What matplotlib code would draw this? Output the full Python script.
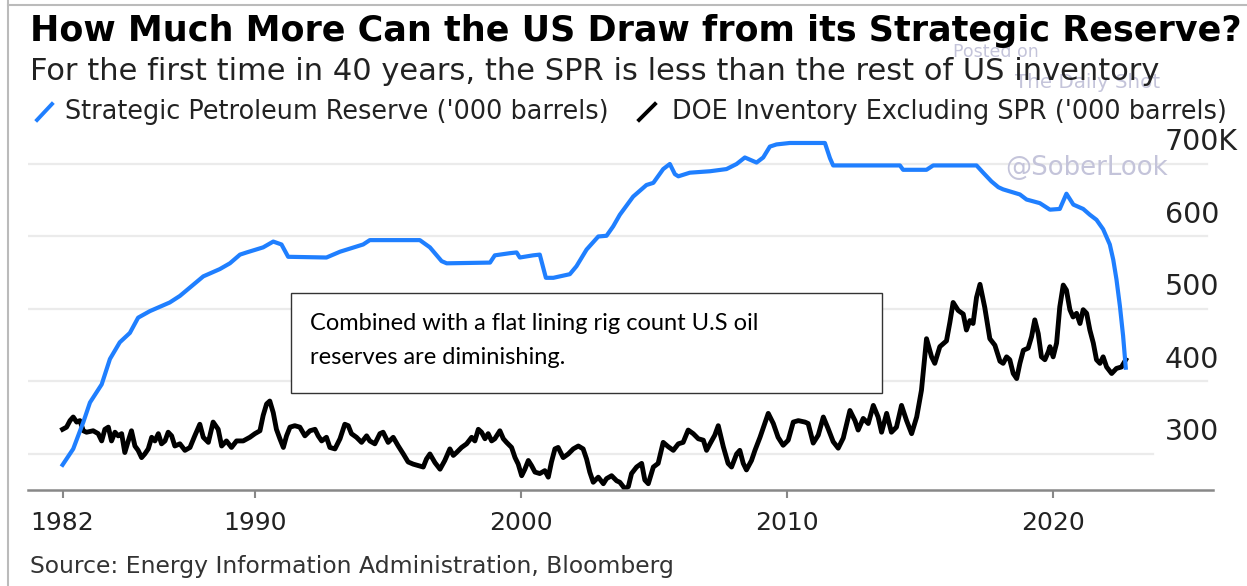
import matplotlib
matplotlib.use("Agg")
import matplotlib.pyplot as plt
from matplotlib.lines import Line2D
from matplotlib.patches import Rectangle

# Strategic Petroleum Reserve, million barrels (axis reads '000 barrels in K)
spr_years = [1982.77, 1983.17, 1983.55, 1983.80, 1984.24, 1984.55, 1984.92, 1985.30, 1985.61,
             1986.05, 1986.80, 1987.18, 1988.06, 1988.68, 1989.06, 1989.44, 1989.69, 1990.31,
             1990.69, 1991.00, 1991.25, 1992.69, 1993.20, 1994.07, 1994.32, 1996.20, 1996.58,
             1997.02, 1997.21, 1998.84, 1999.02, 1999.59, 1999.84, 1999.96, 2000.46, 2000.71,
             2000.94, 2001.22, 2001.84, 2002.09, 2002.47, 2002.91, 2003.22, 2003.47, 2003.72,
             2004.22, 2004.72, 2004.98, 2005.35, 2005.60, 2005.79, 2005.92, 2006.35, 2007.11,
             2007.73, 2008.11, 2008.42, 2008.86, 2009.11, 2009.36, 2009.61, 2010.11, 2011.43,
             2011.62, 2011.74, 2014.25, 2014.37, 2015.25, 2015.50, 2017.13, 2017.38, 2017.69,
             2017.95, 2018.13, 2018.76, 2019.01, 2019.51, 2019.89, 2020.26, 2020.51, 2020.77,
             2021.14, 2021.39, 2021.64, 2021.89, 2022.14, 2022.27, 2022.39, 2022.52, 2022.64,
             2022.74]
spr_values = [285, 307, 344, 371, 396, 431, 454, 467, 488,
              497, 509, 518, 545, 555, 563, 575, 578, 585,
              593, 589, 572, 571, 579, 589, 595, 595, 585,
              566, 563, 564, 574, 577, 578, 571, 574, 575,
              543, 543, 548, 559, 582, 600, 601, 614, 630,
              655, 671, 674, 693, 700, 686, 683, 688, 690,
              693, 700, 709, 702, 709, 724, 727, 729, 729,
              708, 698, 698, 692, 692, 698, 698, 688, 676,
              668, 665, 658, 651, 646, 637, 638, 659, 644,
              638, 630, 623, 610, 589, 568, 541, 504, 463,
              419]

# DOE inventory excluding SPR, million barrels
inv_years = [1982.77, 1982.92, 1983.05, 1983.17, 1983.30, 1983.42, 1983.55, 1983.67, 1983.92,
             1984.11, 1984.24, 1984.36, 1984.49, 1984.61, 1984.74, 1984.86, 1984.99, 1985.11,
             1985.24, 1985.36, 1985.49, 1985.61, 1985.74, 1985.86, 1985.99, 1986.12, 1986.24,
             1986.37, 1986.49, 1986.62, 1986.74, 1986.87, 1986.99, 1987.18, 1987.37, 1987.56,
             1987.74, 1987.93, 1988.06, 1988.25, 1988.43, 1988.62, 1988.75, 1988.93, 1989.12,
             1989.31, 1989.56, 1989.81, 1990.00, 1990.19, 1990.31, 1990.44, 1990.56, 1990.69,
             1990.81, 1990.94, 1991.07, 1991.19, 1991.32, 1991.50, 1991.69, 1991.88, 1992.07,
             1992.26, 1992.38, 1992.51, 1992.69, 1992.82, 1993.01, 1993.20, 1993.38, 1993.51,
             1993.63, 1993.82, 1994.01, 1994.20, 1994.32, 1994.51, 1994.70, 1994.82, 1995.01,
             1995.20, 1995.39, 1995.58, 1995.76, 1995.95, 1996.14, 1996.33, 1996.45, 1996.58,
             1996.77, 1996.96, 1997.14, 1997.33, 1997.46, 1997.58, 1997.77, 1997.96, 1998.15,
             1998.27, 1998.40, 1998.52, 1998.65, 1998.77, 1998.90, 1999.02, 1999.21, 1999.34,
             1999.46, 1999.65, 1999.78, 1999.90, 2000.03, 2000.15, 2000.28, 2000.40, 2000.53,
             2000.71, 2000.90, 2001.03, 2001.15, 2001.28, 2001.40, 2001.59, 2001.78, 2001.97,
             2002.16, 2002.34, 2002.47, 2002.59, 2002.72, 2002.91, 2003.10, 2003.22, 2003.41,
             2003.60, 2003.72, 2003.91, 2004.04, 2004.16, 2004.35, 2004.54, 2004.66, 2004.79,
             2004.98, 2005.16, 2005.35, 2005.54, 2005.73, 2005.92, 2006.10, 2006.29, 2006.48,
             2006.67, 2006.86, 2006.98, 2007.11, 2007.29, 2007.42, 2007.61, 2007.79, 2007.92,
             2008.11, 2008.23, 2008.36, 2008.48, 2008.67, 2008.80, 2008.99, 2009.17, 2009.30,
             2009.49, 2009.67, 2009.86, 2010.05, 2010.24, 2010.43, 2010.68, 2010.80, 2010.99,
             2011.18, 2011.37, 2011.55, 2011.74, 2011.93, 2012.12, 2012.37, 2012.56, 2012.68,
             2012.87, 2013.06, 2013.25, 2013.43, 2013.56, 2013.75, 2013.93, 2014.12, 2014.31,
             2014.50, 2014.69, 2014.88, 2015.06, 2015.25, 2015.44, 2015.56, 2015.75, 2016.00,
             2016.13, 2016.25, 2016.44, 2016.63, 2016.75, 2016.88, 2017.00, 2017.13, 2017.26,
             2017.44, 2017.63, 2017.82, 2018.01, 2018.13, 2018.26, 2018.38, 2018.51, 2018.64,
             2018.76, 2018.89, 2019.07, 2019.20, 2019.32, 2019.45, 2019.57, 2019.70, 2019.83,
             2019.89, 2020.01, 2020.14, 2020.26, 2020.39, 2020.51, 2020.64, 2020.76, 2020.89,
             2021.02, 2021.14, 2021.27, 2021.39, 2021.52, 2021.64, 2021.77, 2021.89, 2022.02,
             2022.21, 2022.39, 2022.58, 2022.74]
inv_values = [334, 337, 346, 351, 344, 346, 332, 330, 332,
              328, 318, 334, 337, 318, 330, 325, 328, 302,
              318, 332, 311, 305, 295, 300, 307, 323, 318,
              328, 314, 318, 330, 325, 311, 314, 305, 309,
              325, 341, 323, 316, 344, 334, 311, 318, 309,
              318, 318, 323, 328, 332, 353, 369, 373, 357,
              334, 321, 309, 325, 337, 339, 337, 325, 332,
              334, 325, 318, 323, 309, 307, 321, 341, 339,
              328, 323, 316, 325, 318, 314, 328, 330, 316,
              323, 311, 300, 289, 286, 284, 282, 293, 300,
              288, 279, 291, 307, 298, 302, 309, 314, 323,
              318, 334, 330, 321, 328, 318, 321, 332, 321,
              316, 309, 295, 286, 270, 279, 291, 284, 275,
              273, 277, 268, 289, 307, 309, 295, 300, 307,
              311, 307, 293, 275, 261, 268, 259, 266, 270,
              263, 261, 252, 255, 273, 282, 287, 264, 259,
              282, 287, 316, 310, 305, 314, 316, 333, 328,
              321, 319, 305, 314, 326, 339, 310, 287, 282,
              300, 305, 287, 278, 291, 305, 323, 342, 356,
              342, 323, 312, 319, 344, 346, 344, 342, 315,
              326, 351, 335, 317, 308, 322, 360, 346, 333,
              349, 342, 367, 351, 330, 356, 330, 337, 367,
              346, 328, 351, 388, 459, 434, 425, 448, 456,
              482, 509, 498, 493, 471, 484, 480, 516, 534,
              502, 459, 450, 428, 425, 434, 430, 411, 404,
              425, 443, 446, 462, 485, 466, 434, 430, 441,
              448, 434, 453, 503, 533, 526, 499, 489, 494,
              480, 499, 494, 471, 453, 430, 425, 434, 420,
              411, 418, 420, 430]

grid_values = [300, 400, 500, 600, 700]
y_labels = ["300", "400", "500", "600", "700K"]
x_ticks = [spr_years[0], 1990, 2000, 2010, 2020]
x_labels = ["1982", "1990", "2000", "2010", "2020"]

title = "How Much More Can the US Draw from its Strategic Reserve?"
subtitle = "For the first time in 40 years, the SPR is less than the rest of US inventory"
legend_spr = "Strategic Petroleum Reserve ('000 barrels)"
legend_inv = "DOE Inventory Excluding SPR ('000 barrels)"
source = "Source: Energy Information Administration, Bloomberg"
note_lines = ["Combined with a flat lining rig count U.S oil", "reserves are diminishing."]

BLUE = "#1f7fff"
W, H = 1247, 586


def fx(px):
    return px / W


def fy(py):
    return 1 - py / H


plt.rcParams["font.family"] = ["DejaVu Sans"]
fig = plt.figure(figsize=(W / 100, H / 100), dpi=100)
ax = fig.add_axes([fx(28), fy(490), fx(1213) - fx(28), fy(130) - fy(490)])

for v in grid_values:
    ax.axhline(v, xmin=0, xmax=0.949 if v == 300 else 0.995, color="#ebebeb", lw=1.6, zorder=0)

ax.plot(inv_years, inv_values, color="black", lw=3.5, solid_joinstyle="round", zorder=2)
ax.plot(spr_years, spr_values, color=BLUE, lw=3.0, solid_joinstyle="round", zorder=3)

ax.set_xlim(1981.47, 2026.02)
ax.set_ylim(250.3, 746.9)
ax.set_yticks([])
ax.set_xticks(x_ticks)
ax.set_xticklabels(x_labels)
ax.tick_params(axis="x", length=6, width=1.5, color="#888888", pad=9, labelsize=18, labelcolor="#222222")
for s in ["top", "left", "right"]:
    ax.spines[s].set_visible(False)
ax.spines["bottom"].set_color("#888888")
ax.spines["bottom"].set_linewidth(1.8)

for v, lab in zip(grid_values, y_labels):
    ax.text(2024.2, v + 30, lab, ha="left", va="center", fontsize=20.5, color="#222222", clip_on=False)

# watermarks
wm = "#c4c4da"
fig.text(fx(953), fy(52), "Posted on", fontsize=12.5, color=wm, va="center")
fig.text(fx(1015), fy(83), "The Daily Shot", fontsize=14.3, color=wm, va="center")
fig.text(fx(1005), fy(168), "@SoberLook", fontsize=18.7, color=wm, va="center")

# titles
fig.text(fx(30), fy(31), title, fontsize=25.2, weight="bold", color="black", va="center")
fig.text(fx(30), fy(71), subtitle, fontsize=22, color="#222222", va="center")

# legend
fig.add_artist(Line2D([fx(37), fx(52)], [fy(120), fy(104)], color=BLUE, lw=2.8))
fig.text(fx(65), fy(112), legend_spr, fontsize=18.4, color="#222222", va="center")
fig.add_artist(Line2D([fx(639), fx(655)], [fy(120), fy(104)], color="black", lw=2.8))
fig.text(fx(672), fy(112), legend_inv, fontsize=18.4, color="#222222", va="center")

# annotation box
fig.add_artist(Rectangle((fx(291), fy(393)), fx(882) - fx(291), fy(293) - fy(393),
                         facecolor="white", edgecolor="#333333", lw=1.0, zorder=5))
fig.text(fx(310), fy(323), note_lines[0], fontsize=17, family="Lato", color="black",
         va="center", zorder=6)
fig.text(fx(310), fy(358), note_lines[1], fontsize=17, family="Lato", color="black",
         va="center", zorder=6)

fig.text(fx(30), fy(567), source, fontsize=16.9, color="#333333", va="center")

# frame of the screenshot
fig.add_artist(Line2D([fx(8), fx(8)], [0, 1], color="#bbbbbb", lw=1.5))
fig.add_artist(Line2D([fx(8), 1], [fy(5), fy(5)], color="#bbbbbb", lw=1.5))

fig.savefig("out.png", dpi=100)
